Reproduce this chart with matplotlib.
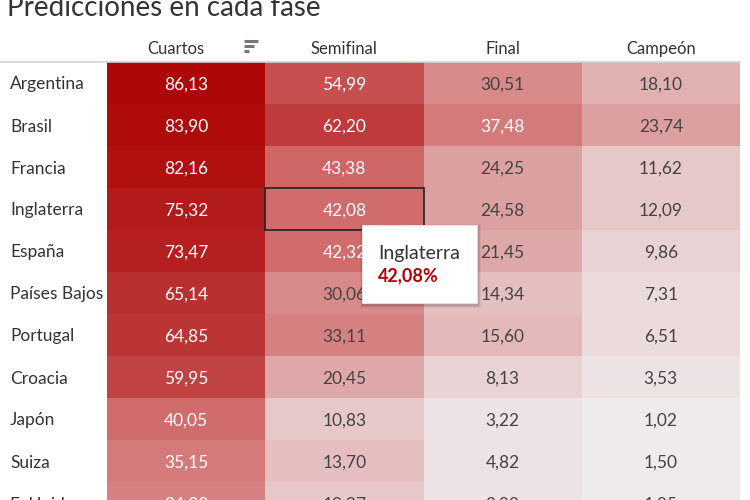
import matplotlib
matplotlib.use("Agg")
import matplotlib.pyplot as plt
import numpy as np
from matplotlib.colors import LinearSegmentedColormap, BoundaryNorm, ListedColormap
from matplotlib.patches import Rectangle

plt.rcParams['font.family'] = ['Lato', 'DejaVu Sans']

title = "Predicciones en cada fase"
phases = ["Cuartos", "Semifinal", "Final", "Campeón"]
teams = ["Argentina", "Brasil", "Francia", "Inglaterra", "España", "Países Bajos",
         "Portugal", "Croacia", "Japón", "Suiza", "E. Unidos"]
cuartos = [86.13, 83.90, 82.16, 75.32, 73.47, 65.14, 64.85, 59.95, 40.05, 35.15, 34.88]
semifinal = [54.99, 62.20, 43.38, 42.08, 42.32, 30.06, 33.11, 20.45, 10.83, 13.70, 10.97]
final = [30.51, 37.48, 24.25, 24.58, 21.45, 14.34, 15.60, 8.13, 3.22, 4.82, 2.90]
campeon = [18.10, 23.74, 11.62, 12.09, 9.86, 7.31, 6.51, 3.53, 1.02, 1.50, 1.05]
tooltip_team = "Inglaterra"
tooltip_phase = "Semifinal"

values = np.array([cuartos, semifinal, final, campeon]).T

W, H = 750, 500
fig = plt.figure(figsize=(W / 100, H / 100), dpi=100)
ax = fig.add_axes([0, 0, 1, 1])
ax.set_xlim(0, W)
ax.set_ylim(H, 0)
ax.axis("off")

x0, cw = 107, 158.25
y0, rh = 62, 42
xedges = x0 + cw * np.arange(len(phases) + 1)
yedges = y0 + rh * np.arange(len(teams) + 1)

# stepped red palette (Tableau-like)
vmax = 90.0
anchors = [(0, (240, 237, 238)), (5, (236, 223, 224)), (12, (230, 197, 198)),
           (20, (224, 172, 172)), (30, (217, 140, 140)), (42, (207, 106, 106)),
           (55, (197, 76, 76)), (65, (187, 50, 50)), (75, (180, 28, 28)),
           (90, (172, 0, 0))]
base = LinearSegmentedColormap.from_list(
    "tabred", [(v / vmax, tuple(c / 255 for c in rgb)) for v, rgb in anchors])
bounds = np.arange(0, vmax + 2.5, 2.5)
mids = (bounds[:-1] + bounds[1:]) / 2
cmap = ListedColormap([base(m / vmax) for m in mids])
norm = BoundaryNorm(bounds, cmap.N)
ax.pcolormesh(xedges, yedges, values, cmap=cmap, norm=norm, shading="flat")

# header
ax.plot([0, xedges[-1]], [y0, y0], color="#d4d4d4", lw=1.2)
for j, p in enumerate(phases):
    cx = (xedges[j] + xedges[j + 1]) / 2
    if j == 0:
        cx -= 10
    ax.text(cx, 54, p, ha="center", va="baseline", fontsize=12, color="#333333")

# sort icon
for k, L in enumerate([14, 10, 5]):
    ax.plot([244, 244 + L], [41 + 5 * k, 41 + 5 * k], color="#777777", lw=2.2,
            solid_capstyle="butt")

# title
ax.text(7, 15.5, title, ha="left", va="baseline", fontsize=20, color="#333333")

# rows
for i, t in enumerate(teams):
    cy = (yedges[i] + yedges[i + 1]) / 2
    ax.text(10, cy + 6.5, t, ha="left", va="baseline", fontsize=12.5, color="#333333")
    for j in range(len(phases)):
        cx = (xedges[j] + xedges[j + 1]) / 2
        v = values[i, j]
        col = "white" if v > 34 else "#444444"
        ax.text(cx, cy + 6.5, f"{v:.2f}".replace(".", ","), ha="center", va="baseline",
                fontsize=12.5, color=col)

# highlight cell
ti = teams.index(tooltip_team)
pj = phases.index(tooltip_phase)
ax.add_patch(Rectangle((xedges[pj], yedges[ti]), cw, rh, fill=False,
                       edgecolor="#222222", lw=1.2, zorder=5))

# tooltip
for off, a in [(3, 0.05), (2, 0.07), (1, 0.09)]:
    ax.add_patch(Rectangle((362 - off + 1, 225 - off + 2), 115 + 2 * off, 78 + 2 * off,
                           facecolor="black", alpha=a, edgecolor="none", zorder=6))
ax.add_patch(Rectangle((362, 225), 115, 78, facecolor="white", edgecolor="#e0e0e0",
                       lw=0.8, zorder=7))
ax.text(378, 259, tooltip_team, ha="left", va="baseline", fontsize=14, color="#333333",
        zorder=8)
tv = values[ti, pj]
ax.text(378, 281, f"{tv:.2f}".replace(".", ",") + "%", ha="left", va="baseline",
        fontsize=13, fontweight="bold", color="#b00000", zorder=8)

fig.savefig("out.png", dpi=100)
